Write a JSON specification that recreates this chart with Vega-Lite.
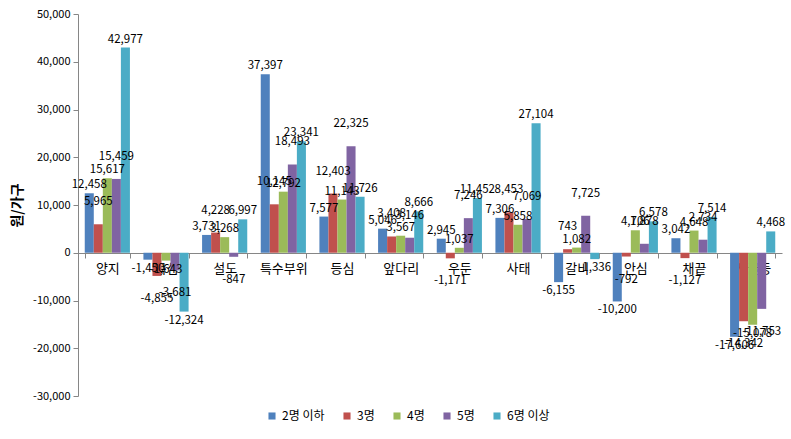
{
  "$schema": "https://vega.github.io/schema/vega-lite/v6.json",
  "width": 704,
  "height": 382,
  "autosize": "none",
  "padding": {"left": 78, "top": 14, "right": 9, "bottom": 43},
  "background": "white",
  "config": {
    "font": "Noto Sans CJK KR",
    "locale": {"number": {"decimal": ".", "thousands": ",", "grouping": [3], "currency": ["", ""], "minus": "-"}},
    "view": {"stroke": null},
    "axis": {"labelFont": "Noto Sans CJK KR", "titleFont": "Noto Sans CJK KR", "labelColor": "#000", "titleColor": "#000", "domainColor": "#868686", "tickColor": "#868686"},
    "legend": {"labelFont": "Noto Sans CJK KR"}
  },
  "data": {"values": [
    {"cat": "양지", "grp": "2명 이하", "v": 12458},
    {"cat": "양지", "grp": "3명", "v": 5965},
    {"cat": "양지", "grp": "4명", "v": 15617},
    {"cat": "양지", "grp": "5명", "v": 15459},
    {"cat": "양지", "grp": "6명 이상", "v": 42977},
    {"cat": "목심", "grp": "2명 이하", "v": -1450},
    {"cat": "목심", "grp": "3명", "v": -4855},
    {"cat": "목심", "grp": "4명", "v": -1643},
    {"cat": "목심", "grp": "5명", "v": -3681},
    {"cat": "목심", "grp": "6명 이상", "v": -12324},
    {"cat": "설도", "grp": "2명 이하", "v": 3731},
    {"cat": "설도", "grp": "3명", "v": 4228},
    {"cat": "설도", "grp": "4명", "v": 3268},
    {"cat": "설도", "grp": "5명", "v": -847},
    {"cat": "설도", "grp": "6명 이상", "v": 6997},
    {"cat": "특수부위", "grp": "2명 이하", "v": 37397},
    {"cat": "특수부위", "grp": "3명", "v": 10145},
    {"cat": "특수부위", "grp": "4명", "v": 12792},
    {"cat": "특수부위", "grp": "5명", "v": 18493},
    {"cat": "특수부위", "grp": "6명 이상", "v": 23341},
    {"cat": "등심", "grp": "2명 이하", "v": 7577},
    {"cat": "등심", "grp": "3명", "v": 12403},
    {"cat": "등심", "grp": "4명", "v": 11143},
    {"cat": "등심", "grp": "5명", "v": 22325},
    {"cat": "등심", "grp": "6명 이상", "v": 11726},
    {"cat": "앞다리", "grp": "2명 이하", "v": 5046},
    {"cat": "앞다리", "grp": "3명", "v": 3408},
    {"cat": "앞다리", "grp": "4명", "v": 3567},
    {"cat": "앞다리", "grp": "5명", "v": 3146},
    {"cat": "앞다리", "grp": "6명 이상", "v": 8666},
    {"cat": "우둔", "grp": "2명 이하", "v": 2945},
    {"cat": "우둔", "grp": "3명", "v": -1171},
    {"cat": "우둔", "grp": "4명", "v": 1037},
    {"cat": "우둔", "grp": "5명", "v": 7246},
    {"cat": "우둔", "grp": "6명 이상", "v": 11452},
    {"cat": "사태", "grp": "2명 이하", "v": 7306},
    {"cat": "사태", "grp": "3명", "v": 8453},
    {"cat": "사태", "grp": "4명", "v": 5858},
    {"cat": "사태", "grp": "5명", "v": 7069},
    {"cat": "사태", "grp": "6명 이상", "v": 27104},
    {"cat": "갈비", "grp": "2명 이하", "v": -6155},
    {"cat": "갈비", "grp": "3명", "v": 743},
    {"cat": "갈비", "grp": "4명", "v": 1082},
    {"cat": "갈비", "grp": "5명", "v": 7725},
    {"cat": "갈비", "grp": "6명 이상", "v": -1336},
    {"cat": "안심", "grp": "2명 이하", "v": -10200},
    {"cat": "안심", "grp": "3명", "v": -792},
    {"cat": "안심", "grp": "4명", "v": 4706},
    {"cat": "안심", "grp": "5명", "v": 1878},
    {"cat": "안심", "grp": "6명 이상", "v": 6578},
    {"cat": "채끝", "grp": "2명 이하", "v": 3042},
    {"cat": "채끝", "grp": "3명", "v": -1127},
    {"cat": "채끝", "grp": "4명", "v": 4648},
    {"cat": "채끝", "grp": "5명", "v": 2734},
    {"cat": "채끝", "grp": "6명 이상", "v": 7514},
    {"cat": "사골등", "grp": "2명 이하", "v": -17606},
    {"cat": "사골등", "grp": "3명", "v": -14342},
    {"cat": "사골등", "grp": "4명", "v": -15078},
    {"cat": "사골등", "grp": "5명", "v": -11753},
    {"cat": "사골등", "grp": "6명 이상", "v": 4468}
  ]},
  "encoding": {
    "x": {
      "field": "cat", "type": "nominal", "sort": null,
      "scale": {"paddingInner": 0.23, "paddingOuter": 0.115},
      "axis": {"title": null, "labelAngle": 0, "offset": -143, "tickBand": "extent", "tickSize": 5, "labelPadding": 4, "labelFontSize": 13, "domainColor": "#868686"}
    },
    "xOffset": {"field": "grp", "type": "nominal", "sort": ["2명 이하", "3명", "4명", "5명", "6명 이상"]},
    "y": {
      "field": "v", "type": "quantitative",
      "scale": {"domain": [-30000, 50000], "nice": false, "zero": true},
      "axis": {"title": "원/가구", "titleFontSize": 14, "titleFontWeight": "bold", "titlePadding": 8, "format": ",d", "values": [-30000, -20000, -10000, 0, 10000, 20000, 30000, 40000, 50000], "grid": false, "tickSize": 5, "labelFontSize": 11, "labelPadding": 3}
    }
  },
  "layer": [
    {
      "mark": {"type": "bar"},
      "encoding": {
        "color": {
          "field": "grp", "type": "nominal",
          "sort": ["2명 이하", "3명", "4명", "5명", "6명 이상"],
          "scale": {"domain": ["2명 이하", "3명", "4명", "5명", "6명 이상"], "range": ["#4F81BD", "#C0504D", "#9BBB59", "#8064A2", "#4BACC6"]},
          "legend": {"title": null, "orient": "none", "legendX": 188, "legendY": 396, "direction": "horizontal", "symbolType": "square", "symbolSize": 50, "symbolStrokeWidth": 0, "labelFontSize": 12, "columnPadding": 16}
        }
      }
    },
    {
      "transform": [{"filter": "datum.v >= 0 && (datum.grp == '2명 이하' || datum.grp == '4명' || datum.grp == '6명 이상')"}],
      "mark": {"type": "text", "dy": -8, "fontSize": 11.5, "color": "#000"},
      "encoding": {"text": {"field": "v", "type": "quantitative", "format": ",d"}}
    },
    {
      "transform": [{"filter": "datum.v >= 0 && (datum.grp == '3명' || datum.grp == '5명')"}],
      "mark": {"type": "text", "dy": -22, "fontSize": 11.5, "color": "#000"},
      "encoding": {"text": {"field": "v", "type": "quantitative", "format": ",d"}}
    },
    {
      "transform": [{"filter": "datum.v < 0 && (datum.grp == '2명 이하' || datum.grp == '4명' || datum.grp == '6명 이상')"}],
      "mark": {"type": "text", "dy": 9, "fontSize": 11.5, "color": "#000"},
      "encoding": {"text": {"field": "v", "type": "quantitative", "format": ",d"}}
    },
    {
      "transform": [{"filter": "datum.v < 0 && (datum.grp == '3명' || datum.grp == '5명')"}],
      "mark": {"type": "text", "dy": 23, "fontSize": 11.5, "color": "#000"},
      "encoding": {"text": {"field": "v", "type": "quantitative", "format": ",d"}}
    }
  ]
}
